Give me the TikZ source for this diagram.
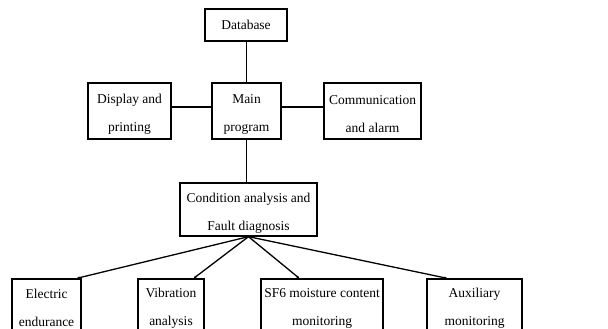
\documentclass[tikz,border=0pt]{standalone}
\usepackage{fontspec}
\setmainfont{Liberation Serif}
\usetikzlibrary{calc,arrows.meta}
\begin{document}
\begin{tikzpicture}[x=1pt,y=1pt,
  box/.style={draw,line width=1.3pt,inner sep=0pt},
  txt/.style={inner sep=0pt,align=center,yshift=-3pt,
    font=\fontsize{13.5}{28}\selectfont},
  conn/.style={line width=1.3pt},
  fan/.style={line width=1.3pt,-{Stealth[length=3pt,width=2.5pt]}}]
\useasboundingbox (0,0) rectangle (608,-329);
\clip (0,0) rectangle (608,-329);
\node[box,minimum width=82pt,minimum height=32pt,label={[txt,yshift=3pt]center:Database}] (db) at (246,-25) {};
\node[box,minimum width=83pt,minimum height=56pt,label={[txt]center:{Display and\\printing}}] (disp) at (129.5,-111) {};
\node[box,minimum width=69pt,minimum height=56pt,label={[txt]center:{Main\\program}}] (main) at (246.5,-111) {};
\node[box,minimum width=97pt,minimum height=56pt,label={[txt]center:{Communication\\and alarm}}] (comm) at (372.5,-111) {};
\node[box,minimum width=137pt,minimum height=53pt,label={[txt,yshift=-1pt]center:{Condition analysis and\\Fault diagnosis}}] (cond) at (248.5,-209.5) {};
\node[box,minimum width=69pt,minimum height=56pt,label={[txt,yshift=2pt]center:{Electric\\endurance}}] (e) at (46.5,-307) {};
\node[box,minimum width=66pt,minimum height=56pt,label={[txt,yshift=2pt]center:{Vibration\\analysis}}] (v) at (171,-307) {};
\node[box,minimum width=122pt,minimum height=56pt,label={[txt,yshift=2pt]center:{SF6 moisture content\\monitoring}}] (s) at (322,-307) {};
\node[box,minimum width=95pt,minimum height=56pt,label={[txt,yshift=2pt]center:{Auxiliary\\monitoring}}] (a) at (474.5,-307) {};
\draw[conn] (main.north) -- (main.north |- db.south);
\draw[conn] (main.south) -- (main.south |- cond.north);
\draw[conn] ([yshift=4pt]disp.east) -- ([yshift=4pt]main.west);
\draw[conn] ([yshift=4pt]main.east) -- ([yshift=4pt]comm.west);
\draw[fan] (cond.south) -- ($(e.north east)+(-5,0)$);
\draw[fan] (cond.south) -- ($(v.north east)+(-11,0)$);
\draw[fan] (cond.south) -- ($(s.north west)+(39,0)$);
\draw[fan] (cond.south) -- ($(a.north west)+(21,0)$);
\end{tikzpicture}
\end{document}
